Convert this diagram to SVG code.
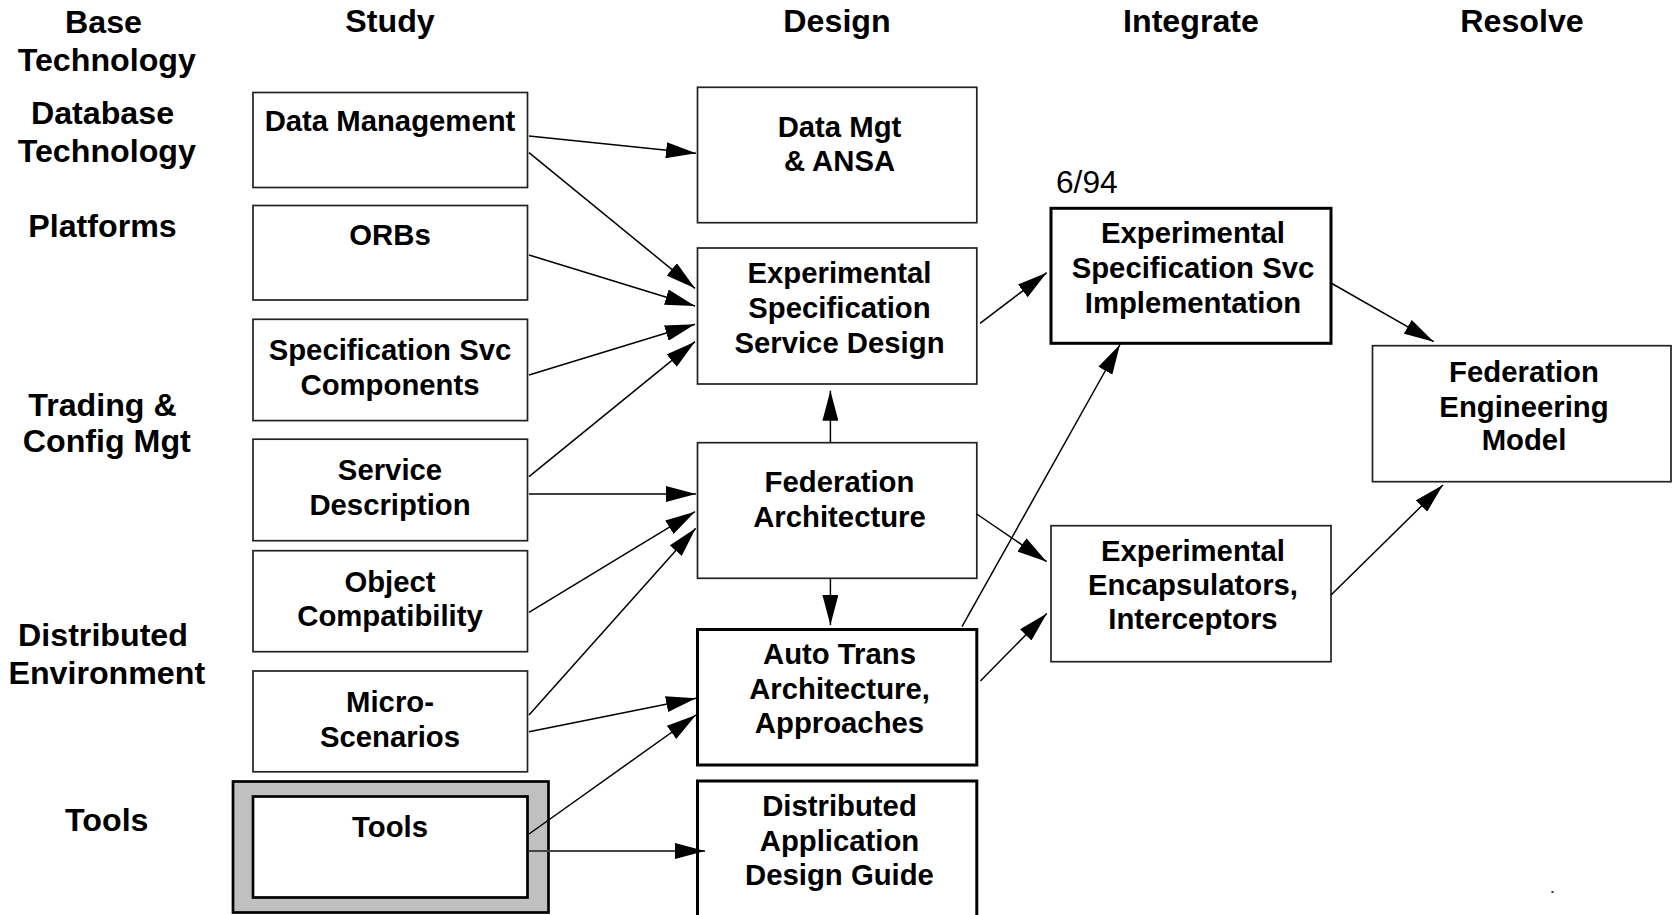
<svg xmlns="http://www.w3.org/2000/svg" width="1675" height="915" viewBox="0 0 1675 915">
  <style>
    text { font-family: "Liberation Sans", Arial, Helvetica, sans-serif; fill: #000; text-anchor: middle; }
    .h { font-size: 32.2px; font-weight: bold; }
    .t { font-size: 29.3px; font-weight: bold; }
    .n { font-size: 31.7px; font-weight: normal; text-anchor: start; }
    .box { fill: #fff; stroke: #222; stroke-width: 1.7; }
    .bold { fill: #fff; stroke: #000; stroke-width: 3; }
    .frame { fill: #c0c0c0; stroke: #000; stroke-width: 2.7; }
    .inner { fill: #fff; stroke: #000; stroke-width: 2.7; }
    .ln { stroke: #000; stroke-width: 1.5; fill: none; marker-end: url(#arrow); }
    .ln2 { stroke: #444; stroke-width: 2; fill: none; marker-end: url(#arrow); }
  </style>
  <defs>
    <marker id="arrow" markerUnits="userSpaceOnUse" markerWidth="30" markerHeight="16" refX="30" refY="8" orient="auto" viewBox="0 0 30 16">
      <path d="M0,0 L30,8 L0,16 z" fill="#000"/>
    </marker>
  </defs>
  <rect width="1675" height="915" fill="#fff"/>

  <!-- column headers -->
  <g id="headers">
    <text class="h" x="390" y="32">Study</text>
    <text class="h" x="837" y="32">Design</text>
    <text class="h" x="1191" y="32">Integrate</text>
    <text class="h" x="1522" y="32">Resolve</text>
  </g>

  <!-- row labels -->
  <g id="row-labels">
    <text class="h" x="103.5" y="33">Base</text>
    <text class="h" x="106.8" y="70.5">Technology</text>
    <text class="h" x="102.5" y="124">Database</text>
    <text class="h" x="106.8" y="162">Technology</text>
    <text class="h" x="102.5" y="237">Platforms</text>
    <text class="h" x="102.5" y="415.5">Trading &amp;</text>
    <text class="h" x="106.8" y="452">Config Mgt</text>
    <text class="h" x="103" y="646">Distributed</text>
    <text class="h" x="106.8" y="683.5">Environment</text>
    <text class="h" x="106.8" y="831">Tools</text>
  </g>

  <!-- study column -->
  <g id="data-management">
    <rect class="box" x="253" y="92.5" width="274.5" height="95"/>
    <text class="t" x="390" y="131">Data Management</text>
  </g>
  <g id="orbs">
    <rect class="box" x="253" y="205.5" width="274.5" height="94.5"/>
    <text class="t" x="390" y="245">ORBs</text>
  </g>
  <g id="spec-svc-components">
    <rect class="box" x="253" y="319.3" width="274.5" height="101.3"/>
    <text class="t" x="390" y="360">Specification Svc</text>
    <text class="t" x="390" y="395">Components</text>
  </g>
  <g id="service-description">
    <rect class="box" x="253" y="439.2" width="274.5" height="101.5"/>
    <text class="t" x="390" y="480">Service</text>
    <text class="t" x="390" y="515">Description</text>
  </g>
  <g id="object-compatibility">
    <rect class="box" x="253" y="550.7" width="274.5" height="101"/>
    <text class="t" x="390" y="591.7">Object</text>
    <text class="t" x="390" y="626">Compatibility</text>
  </g>
  <g id="micro-scenarios">
    <rect class="box" x="253" y="671" width="274.5" height="100.8"/>
    <text class="t" x="390" y="711.7">Micro-</text>
    <text class="t" x="390" y="746.7">Scenarios</text>
  </g>
  <g id="tools">
    <rect class="frame" x="233" y="781.5" width="315.5" height="131"/>
    <rect class="inner" x="253" y="796.5" width="274.5" height="101"/>
    <text class="t" x="390" y="837.3">Tools</text>
  </g>

  <!-- design column -->
  <g id="data-mgt-ansa">
    <rect class="box" x="697.5" y="87.3" width="279.3" height="135.4"/>
    <text class="t" x="839.5" y="136.7">Data Mgt</text>
    <text class="t" x="839.5" y="170.7">&amp; ANSA</text>
  </g>
  <g id="spec-service-design">
    <rect class="box" x="697.5" y="248" width="279.3" height="136"/>
    <text class="t" x="839.5" y="283">Experimental</text>
    <text class="t" x="839.5" y="318">Specification</text>
    <text class="t" x="839.5" y="353">Service Design</text>
  </g>
  <g id="federation-architecture">
    <rect class="box" x="697.5" y="442.7" width="279.3" height="135.6"/>
    <text class="t" x="839.5" y="491.7">Federation</text>
    <text class="t" x="839.5" y="526.7">Architecture</text>
  </g>
  <g id="auto-trans">
    <rect class="bold" x="697.5" y="629.5" width="279.3" height="135.5"/>
    <text class="t" x="839.5" y="664">Auto Trans</text>
    <text class="t" x="839.5" y="699">Architecture,</text>
    <text class="t" x="839.5" y="733.3">Approaches</text>
  </g>
  <g id="design-guide">
    <rect class="bold" x="697.5" y="781" width="279.3" height="150"/>
    <text class="t" x="839.5" y="816">Distributed</text>
    <text class="t" x="839.5" y="850.7">Application</text>
    <text class="t" x="839.5" y="885">Design Guide</text>
  </g>

  <!-- integrate column -->
  <text class="n" x="1056" y="193.3">6/94</text>
  <g id="spec-svc-implementation">
    <rect class="bold" x="1051" y="208.3" width="280" height="135"/>
    <text class="t" x="1193" y="243">Experimental</text>
    <text class="t" x="1193" y="278">Specification Svc</text>
    <text class="t" x="1193" y="313">Implementation</text>
  </g>
  <g id="encapsulators">
    <rect class="box" x="1051" y="525.7" width="280" height="136"/>
    <text class="t" x="1193" y="561">Experimental</text>
    <text class="t" x="1193" y="595">Encapsulators,</text>
    <text class="t" x="1193" y="629.3">Interceptors</text>
  </g>

  <!-- resolve column -->
  <g id="federation-engineering-model">
    <rect class="box" x="1372.5" y="345.7" width="298.5" height="136"/>
    <text class="t" x="1524" y="382">Federation</text>
    <text class="t" x="1524" y="417">Engineering</text>
    <text class="t" x="1524" y="450">Model</text>
  </g>

  <!-- connectors -->
  <g id="connectors">
    <line class="ln" x1="529" y1="136" x2="696" y2="153.3"/>
    <line class="ln" x1="529" y1="152.7" x2="695" y2="288.3"/>
    <line class="ln" x1="529" y1="255" x2="695" y2="306"/>
    <line class="ln" x1="529" y1="375" x2="695" y2="324.3"/>
    <line class="ln" x1="529" y1="476.7" x2="695" y2="341.7"/>
    <line class="ln" x1="529" y1="494" x2="696" y2="494"/>
    <line class="ln" x1="529" y1="612.3" x2="695" y2="511.7"/>
    <line class="ln" x1="529" y1="715" x2="695.7" y2="528.3"/>
    <line class="ln" x1="529" y1="731.7" x2="696" y2="698.3"/>
    <line class="ln" x1="529" y1="834" x2="696" y2="715"/>
    <line class="ln2" x1="529" y1="851" x2="705" y2="851"/>
    <line class="ln" x1="830.4" y1="442.7" x2="830.4" y2="390.7"/>
    <line class="ln" x1="830.4" y1="578.3" x2="830.4" y2="625"/>
    <line class="ln" x1="980" y1="323.3" x2="1046.7" y2="272.7"/>
    <line class="ln" x1="962" y1="626.7" x2="1120" y2="344.5"/>
    <line class="ln" x1="976.7" y1="514" x2="1046.7" y2="561.7"/>
    <line class="ln" x1="980.4" y1="681" x2="1046.8" y2="613.5"/>
    <line class="ln" x1="1331" y1="283" x2="1433.7" y2="341.7"/>
    <line class="ln" x1="1331" y1="595" x2="1442.9" y2="485"/>
  </g>

  <rect x="1551.5" y="891" width="2" height="2" fill="#333"/>
</svg>
